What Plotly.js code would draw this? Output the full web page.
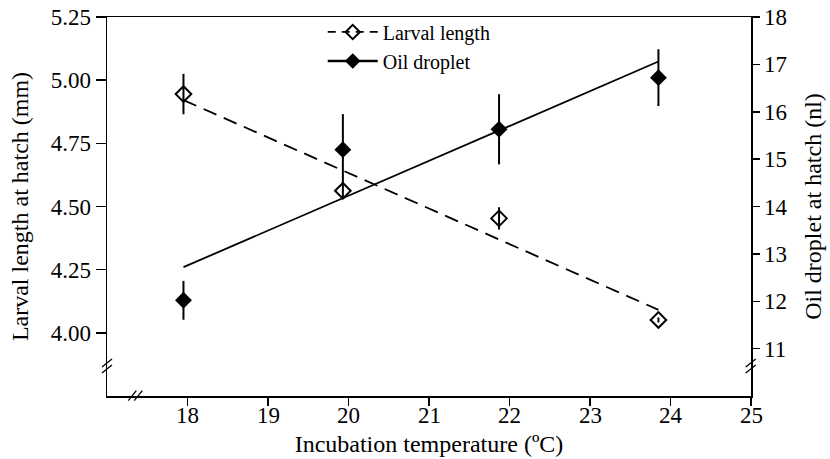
<!DOCTYPE html>
<html>
<head>
<meta charset="utf-8">
<script src="https://cdn.plot.ly/plotly-3.0.1.min.js"></script>
<style>html,body{margin:0;padding:0;background:#fff;}#chart{width:830px;height:459px;}</style>
</head>
<body>
<div id="chart"></div>
<script>
// Incubation temperatures (ºC)
const temperature = [17.95, 19.93, 21.87, 23.85];
// Larval length at hatch (mm) and its error
const larvalLength = [4.945, 4.562, 4.453, 4.051];
const larvalErr = [0.08, 0.03, 0.044, 0.01];
// Oil droplet at hatch (nl) and its error
const oilDroplet = [12.02, 15.2, 15.63, 16.72];
const oilErr = [0.41, 0.75, 0.74, 0.6];
// Regression line end points
const fitX = [17.95, 23.85];
const larvalFit = [4.921, 4.091];
const oilFit = [12.72, 17.06];
// Tick values
const xTicks = [18, 19, 20, 21, 22, 23, 24, 25];
const leftTicks = [4.00, 4.25, 4.50, 4.75, 5.00, 5.25];
const rightTicks = [11, 12, 13, 14, 15, 16, 17, 18];

const font = '"Liberation Serif", "Times New Roman", serif';

const traces = [
  {x: fitX, y: larvalFit, mode: 'lines', yaxis: 'y', showlegend: false, hoverinfo: 'skip',
   line: {color: '#000', width: 1.8, dash: '14px,8px'}},
  {x: fitX, y: oilFit, mode: 'lines', yaxis: 'y2', showlegend: false, hoverinfo: 'skip',
   line: {color: '#000', width: 1.8}},
  {x: temperature, y: larvalLength, mode: 'markers', yaxis: 'y', showlegend: false,
   error_y: {type: 'data', array: larvalErr, color: '#000', thickness: 2, width: 0},
   marker: {symbol: 'diamond-open', size: 12, color: '#000', line: {width: 2, color: '#000'}}},
  {x: temperature, y: oilDroplet, mode: 'markers', yaxis: 'y2', showlegend: false,
   error_y: {type: 'data', array: oilErr, color: '#000', thickness: 2, width: 0},
   marker: {symbol: 'diamond', size: 13, color: '#000', line: {width: 0}}},
  // legend entries
  {x: [null], y: [null], mode: 'lines+markers', name: 'Larval length', yaxis: 'y',
   line: {color: '#000', width: 1.8, dash: '8px,6px'},
   marker: {symbol: 'diamond-open', size: 11, color: '#000', line: {width: 2, color: '#000'}}},
  {x: [null], y: [null], mode: 'lines+markers', name: 'Oil droplet', yaxis: 'y2',
   line: {color: '#000', width: 2.5},
   marker: {symbol: 'diamond', size: 12, color: '#000'}}
];

const axisLine = {showline: true, linecolor: '#000', linewidth: 1.5, ticks: 'outside',
  tickcolor: '#000', tickwidth: 1.5, showgrid: false, zeroline: false,
  tickfont: {family: font, size: 23, color: '#000'}};

// break marks (paper coords computed from pixel layout)
const W = 830, H = 459, L = 106.7, R = 79, T = 17, B = 63;
const pw = W - L - R, ph = H - T - B;
function px(x){ return (x - L) / pw; }
function py(y){ return (H - B - y) / ph; }
const shapes = [];
function brk(cx, cy, vertical){
  const offs = [-3, 3];
  offs.forEach(o => {
    if (vertical) {
      shapes.push({type: 'line', xref: 'paper', yref: 'paper',
        x0: px(cx - 5), y0: py(cy + 4 + o), x1: px(cx + 5), y1: py(cy - 4 + o),
        line: {color: '#000', width: 1.3}});
    } else {
      shapes.push({type: 'line', xref: 'paper', yref: 'paper',
        x0: px(cx - 4 + o), y0: py(cy + 5), x1: px(cx + 4 + o), y1: py(cy - 5),
        line: {color: '#000', width: 1.3}});
    }
  });
}
brk(106.7, 366, true);
brk(750.7, 366, true);
brk(135, 395.7, false);

// x tick labels placed at the axis tick values
const annotations = xTicks.map(t => ({
  xref: 'x', yref: 'paper', x: t, y: py(415), xanchor: 'center', yanchor: 'middle',
  text: String(t), showarrow: false, font: {family: font, size: 23, color: '#000'}
}));

const layout = {
  width: W, height: H,
  margin: {l: L, r: R, t: T, b: B},
  paper_bgcolor: '#fff', plot_bgcolor: '#fff',
  font: {family: font, size: 20, color: '#000'},
  showlegend: true,
  legend: {x: 0.335, y: 1.012, xanchor: 'left', yanchor: 'top', bgcolor: 'rgba(0,0,0,0)',
    font: {family: font, size: 20, color: '#000'}, tracegroupgap: 0, itemwidth: 50},
  xaxis: Object.assign({}, axisLine, {range: [17, 25], tickvals: xTicks, ticklen: 8,
    mirror: true, showticklabels: false,
    title: {text: 'Incubation temperature (ºC)', font: {family: font, size: 24}, standoff: 30}}),
  yaxis: Object.assign({}, axisLine, {range: [3.75, 5.25], tickvals: leftTicks, tickformat: '.2f', ticklen: 10,
    title: {text: 'Larval length at hatch (mm)', font: {family: font, size: 24}, standoff: 15}}),
  yaxis2: Object.assign({}, axisLine, {range: [10, 18], tickvals: rightTicks, ticklen: 7,
    overlaying: 'y', side: 'right',
    title: {text: 'Oil droplet at hatch (nl)', font: {family: font, size: 24}, standoff: 17}}),
  shapes: shapes,
  annotations: annotations
};

Plotly.newPlot('chart', traces, layout, {staticPlot: true, displayModeBar: false});
</script>
</body>
</html>
